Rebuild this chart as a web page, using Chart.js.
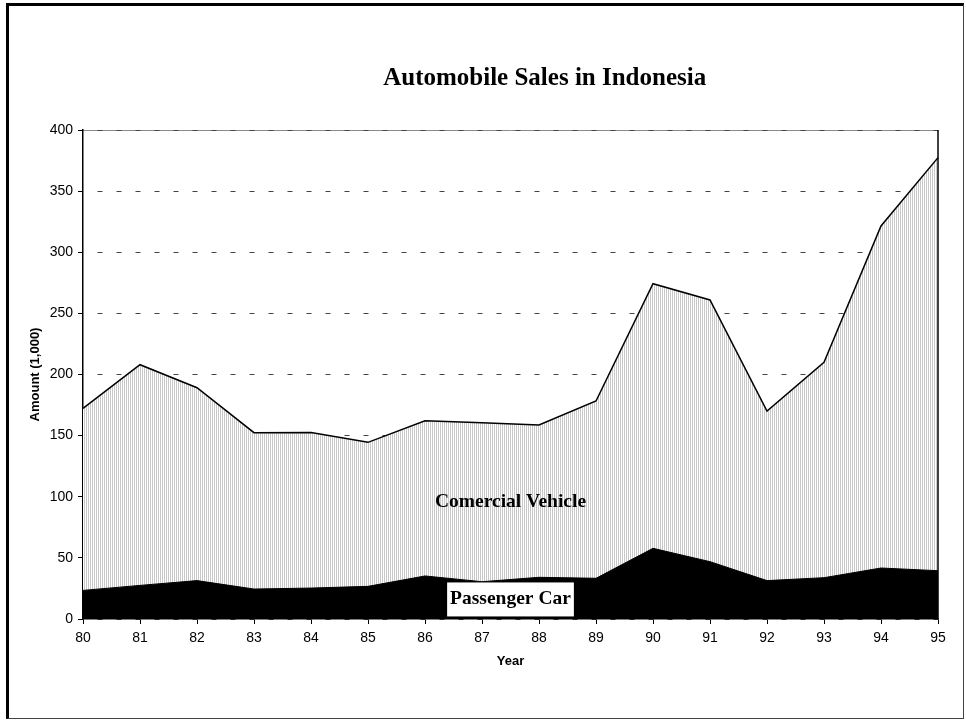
<!DOCTYPE html>
<html>
<head>
<meta charset="utf-8">
<title>Automobile Sales in Indonesia</title>
<script src="https://cdn.jsdelivr.net/npm/chart.js@4/dist/chart.umd.min.js"></script>
<style>
    html, body { margin: 0; padding: 0; background: #fff; }
    #wrap { position: relative; width: 966px; height: 721px; }
    #frame {
        position: absolute; left: 6px; top: 3px; width: 958px; height: 716px;
        box-sizing: border-box; pointer-events: none;
        border-left: 3px solid #000; border-top: 3px solid #000;
        border-right: 1px solid #444; border-bottom: 1px solid #444;
    }
    canvas { position: absolute; left: 0; top: 0; }
</style>
</head>
<body>
<div id="wrap">
    <canvas id="salesChart" width="966" height="721"></canvas>
    <div id="frame"></div>
</div>
<script>
// Data (thousand units)
const years = ['80', '81', '82', '83', '84', '85', '86', '87', '88', '89', '90', '91', '92', '93', '94', '95'];
const passengerCar = [23.4, 27.5, 31.4, 24.5, 25.3, 26.7, 35.2, 30.5, 34.1, 33.3, 57.8, 46.9, 31.4, 33.8, 41.7, 39.5];
const commercialVehicle = [148.9, 180.5, 157.8, 127.9, 127.2, 117.8, 127.0, 130.1, 124.6, 145.0, 216.5, 214.1, 138.7, 176.2, 279.8, 337.9];
const yMin = 0;
const yMax = 400;
const yStep = 50;

const serif = '"Liberation Serif", "Times New Roman", serif';
const sans = '"Liberation Sans", Arial, sans-serif';

document.addEventListener('DOMContentLoaded', function() {
    const canvas = document.getElementById('salesChart');
    const ctx = canvas.getContext('2d');

    // vertical hatch fill for the commercial area
    const tile = document.createElement('canvas');
    tile.width = 2;
    tile.height = 1;
    const t = tile.getContext('2d');
    t.fillStyle = '#ffffff';
    t.fillRect(0, 0, 2, 1);
    t.fillStyle = '#c8c8c8';
    t.fillRect(0, 0, 1, 1);
    const hatch = ctx.createPattern(tile, 'repeat');

    // title, area labels and plot frame
    const decor = {
        id: 'decor',
        beforeDraw(chart) {
            const a = chart.chartArea;
            const c = chart.ctx;
            c.save();
            c.strokeStyle = '#8a8a8a';
            c.lineWidth = 1;
            c.beginPath();
            c.moveTo(a.left, a.top + 0.5);
            c.lineTo(a.right, a.top + 0.5);
            c.stroke();
            c.restore();
        },
        afterDatasetsDraw(chart) {
            const a = chart.chartArea;
            const c = chart.ctx;
            const y = chart.scales.y;
            const cx = (a.left + a.right) / 2;

            c.save();
            c.strokeStyle = '#000';
            c.lineWidth = 1.5;
            c.beginPath();
            c.moveTo(a.right, a.top);
            c.lineTo(a.right, a.bottom);
            c.stroke();

            c.fillStyle = '#000';
            c.textAlign = 'center';
            c.textBaseline = 'middle';
            c.font = 'bold 25px ' + serif;
            c.fillText('Automobile Sales in Indonesia', a.left + a.width * 0.54, a.top - 51);

            c.font = 'bold 19.5px ' + serif;
            c.fillText('Comercial Vehicle', cx, y.getPixelForValue(96));

            const py = y.getPixelForValue(16);
            const w = c.measureText('Passenger Car').width;
            c.fillStyle = '#fff';
            c.fillRect(cx - w / 2 - 3, py - 17, w + 6, 34);
            c.fillStyle = '#000';
            c.fillText('Passenger Car', cx, py);
            c.restore();
        }
    };

    new Chart(ctx, {
        type: 'line',
        data: {
            labels: years,
            datasets: [{
                label: 'Passenger Car',
                data: passengerCar,
                borderColor: '#000',
                borderWidth: 1,
                backgroundColor: '#000',
                fill: 'origin',
                tension: 0,
                pointRadius: 0
            }, {
                label: 'Comercial Vehicle',
                data: commercialVehicle,
                borderColor: '#000',
                borderWidth: 1.5,
                backgroundColor: hatch,
                fill: '-1',
                tension: 0,
                pointRadius: 0
            }]
        },
        options: {
            responsive: false,
            animation: false,
            layout: {
                padding: { top: 130, right: 28, bottom: 42, left: 0 }
            },
            plugins: {
                legend: { display: false },
                title: { display: false },
                tooltip: { enabled: false }
            },
            scales: {
                x: {
                    offset: false,
                    afterFit: (s) => { s.height = 60; },
                    grid: {
                        drawOnChartArea: false,
                        drawTicks: true,
                        tickLength: 5,
                        tickColor: '#000'
                    },
                    border: { display: true, color: '#000', width: 1.5 },
                    ticks: {
                        color: '#000',
                        padding: 6,
                        maxRotation: 0,
                        autoSkip: false,
                        font: { family: sans, size: 14 }
                    },
                    title: {
                        display: true,
                        text: 'Year',
                        color: '#000',
                        padding: { top: 0, bottom: 10 },
                        font: { family: sans, size: 13, weight: 'bold' }
                    }
                },
                y: {
                    stacked: true,
                    min: yMin,
                    max: yMax,
                    afterFit: (s) => { s.width = 83; },
                    grid: {
                        color: '#444',
                        lineWidth: 1,
                        drawTicks: true,
                        tickLength: 5,
                        tickColor: '#000'
                    },
                    border: { display: true, color: '#000', width: 1.5, dash: [5, 14], dashOffset: 5 },
                    ticks: {
                        stepSize: yStep,
                        color: '#000',
                        padding: 5,
                        font: { family: sans, size: 14 }
                    },
                    title: {
                        display: true,
                        text: 'Amount (1,000)',
                        color: '#000',
                        padding: { top: 28, bottom: 0 },
                        font: { family: sans, size: 13, weight: 'bold' }
                    }
                }
            }
        },
        plugins: [decor]
    });
});
</script>
</body>
</html>
